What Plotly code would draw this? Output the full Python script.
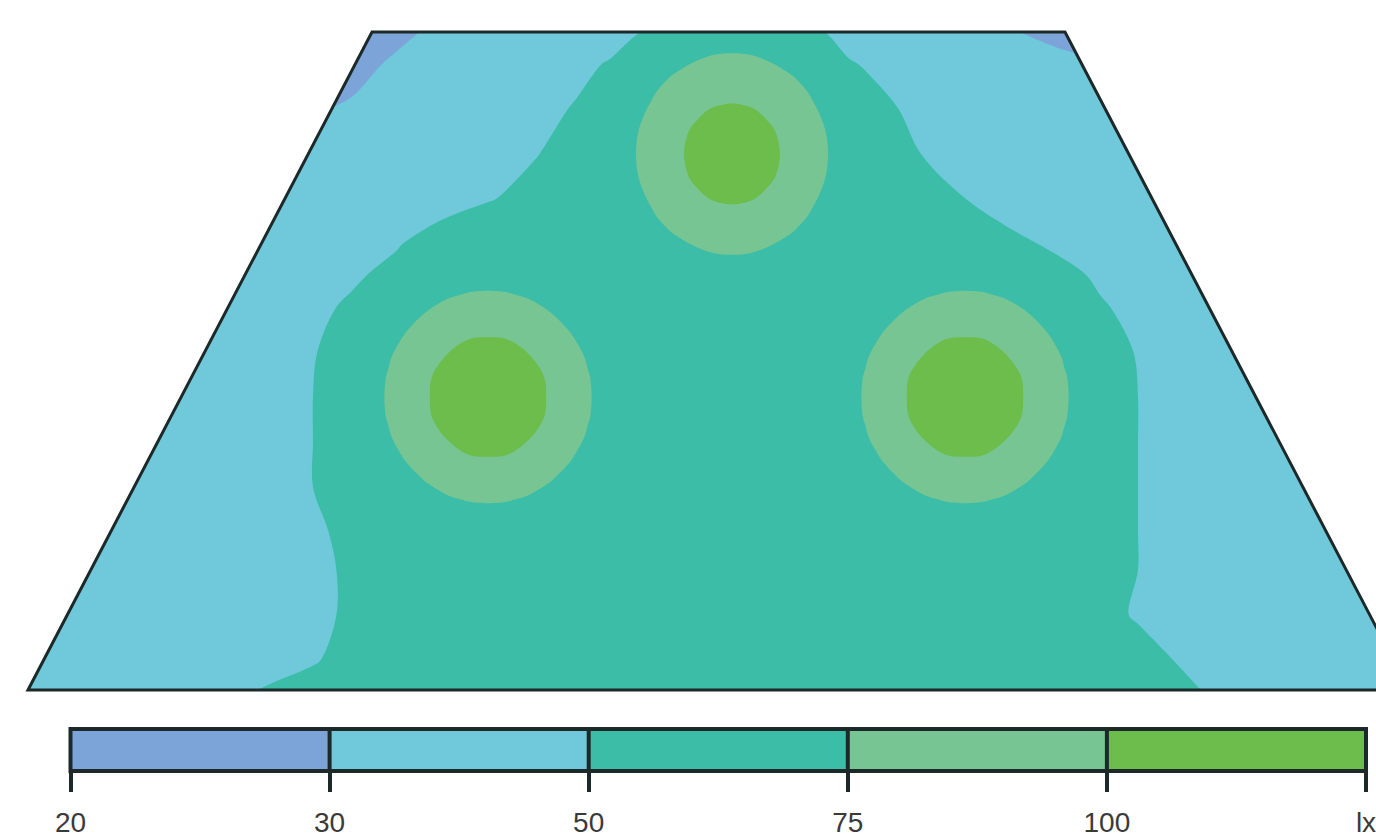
import plotly.graph_objects as go

# room floor plan (m): bottom-left, top-left, top-right, bottom-right
ROOM_X = [0.0, 3.44, 10.37, 13.81]
ROOM_Y = [0.0, 6.58, 6.58, 0.0]

GRID_X = [-0.3, 0.8, 1.8, 2.4, 2.85, 3.24, 3.69, 4.14, 4.59, 5.04, 5.49, 5.82, 6.14, 6.59,
          7.04, 7.49, 7.94, 8.21, 8.48, 8.93, 9.38, 9.83, 10.28, 10.73, 11.1, 11.45, 12.0, 13.0, 14.1]
GRID_Y = [-0.2, 0.3, 0.75, 1.2, 1.58, 2.03, 2.48, 2.93, 3.38, 3.83, 4.15, 4.46, 4.91, 5.36,
          5.81, 6.26, 6.71]

LUX = [
    [38, 38, 49, 56, 58, 58, 58, 58, 58, 58, 58, 58, 58, 58, 58, 58, 58, 58, 58, 58, 58, 58, 58, 58, 58, 55, 49, 38, 38],
    [38, 38, 38, 44, 49, 54, 58, 58, 58, 58, 58, 58, 58, 58, 58, 58, 58, 58, 58, 58, 58, 58, 58, 58, 54, 50, 43, 38, 38],
    [38, 38, 38, 42, 47, 52, 57, 58, 58, 58, 58, 58, 58, 58, 58, 58, 58, 58, 58, 58, 58, 58, 58, 53, 49, 45, 38, 38, 38],
    [38, 38, 38, 42, 47, 52, 58, 58, 58, 58, 58, 58, 58, 58, 58, 58, 58, 58, 58, 58, 58, 58, 58, 54, 50, 46, 39, 38, 38],
    [38, 38, 38, 43, 48, 53, 60, 62, 64, 62, 60, 59, 58, 58, 58, 58, 58, 59, 60, 62, 64, 62, 60, 54, 50, 46, 39, 38, 38],
    [38, 38, 38, 44, 50, 56, 67, 77, 80, 77, 67, 62, 59, 58, 58, 58, 60, 63, 67, 77, 80, 77, 67, 56, 50, 46, 39, 38, 38],
    [38, 38, 38, 45, 50, 59, 77, 98, 108, 98, 77, 66, 60, 58, 58, 58, 62, 68, 77, 98, 108, 98, 77, 59, 50, 46, 39, 38, 38],
    [38, 38, 38, 45, 50, 61, 80, 108, 122, 108, 80, 69, 61, 58, 58, 58, 63, 70, 80, 108, 122, 108, 80, 60, 50, 46, 39, 38, 38],
    [38, 38, 38, 44, 49, 58, 77, 98, 108, 98, 77, 66, 60, 58, 58, 58, 62, 68, 77, 98, 108, 98, 77, 57, 49, 45, 38, 38, 38],
    [38, 38, 38, 42, 47, 52, 66, 77, 80, 77, 67, 62, 59, 58, 58, 58, 60, 63, 67, 77, 80, 77, 66, 51, 47, 43, 38, 38, 38],
    [38, 38, 38, 38, 44, 48, 54, 66, 69, 66, 62, 60, 58, 62, 64, 62, 58, 60, 62, 66, 69, 66, 54, 48, 44, 40, 38, 38, 38],
    [38, 38, 38, 38, 39, 44, 49, 57, 62, 61, 59, 58, 64, 74, 78, 74, 64, 58, 59, 61, 62, 53, 48, 43, 38, 38, 38, 38, 38],
    [38, 38, 38, 38, 38, 38, 38, 44, 49, 54, 58, 62, 74, 97, 102, 97, 74, 64, 58, 55, 50, 44, 39, 38, 38, 38, 38, 38, 38],
    [38, 38, 38, 38, 38, 38, 38, 39, 44, 49, 55, 64, 78, 102, 118, 102, 78, 64, 56, 50, 45, 39, 38, 38, 38, 38, 38, 38, 38],
    [25, 25, 25, 25, 28, 33, 38, 38, 40, 46, 51, 59, 74, 97, 102, 97, 74, 62, 53, 47, 42, 38, 38, 38, 38, 38, 38, 38, 38],
    [15, 15, 15, 18, 20, 22, 34, 38, 38, 41, 47, 51, 61, 74, 78, 74, 60, 51, 48, 42, 38, 38, 36, 31, 20, 15, 15, 15, 15],
    [15, 15, 15, 15, 15, 15, 20, 32, 38, 38, 38, 42, 46, 51, 58, 52, 47, 43, 40, 38, 34, 28, 20, 15, 15, 15, 15, 15, 15],
]
assert all(len(r) == len(GRID_X) for r in LUX) and len(LUX) == len(GRID_Y)

# luminaires (m) and finer readings around each one
LAMP_X = [4.60, 7.04, 9.37]
LAMP_Y = [2.93, 5.36, 2.93]
PATCH_DX = [-1.2, -1.0, -0.8, -0.6, -0.4, -0.2, 0.0, 0.2, 0.4, 0.6, 0.8, 1.0, 1.2]
PATCH_DY_SIDE = [-1.23, -1.025, -0.82, -0.615, -0.41, -0.205, 0.0, 0.205, 0.41, 0.615, 0.82, 1.025, 1.23]
PATCH_DY_TOP = [-1.26, -1.05, -0.84, -0.63, -0.42, -0.21, 0.0, 0.21, 0.42, 0.63, 0.84, 1.05, 1.26]

SIDE_LAMP_LUX = [
    [39, 47, 53, 59, 63, 66, 66, 66, 63, 59, 53, 47, 39],
    [47, 55, 62, 68, 73, 76, 77, 76, 73, 68, 62, 55, 47],
    [53, 62, 70, 77, 83, 87, 88, 87, 83, 77, 70, 62, 53],
    [59, 68, 77, 86, 93, 98, 99, 98, 93, 86, 77, 68, 59],
    [63, 73, 83, 93, 101, 108, 110, 108, 101, 93, 83, 73, 63],
    [66, 76, 87, 98, 108, 117, 121, 117, 108, 98, 87, 76, 66],
    [66, 77, 88, 99, 110, 121, 132, 121, 110, 99, 88, 77, 66],
    [66, 76, 87, 98, 108, 117, 121, 117, 108, 98, 87, 76, 66],
    [63, 73, 83, 93, 101, 108, 110, 108, 101, 93, 83, 73, 63],
    [59, 68, 77, 86, 93, 98, 99, 98, 93, 86, 77, 68, 59],
    [53, 62, 70, 77, 83, 87, 88, 87, 83, 77, 70, 62, 53],
    [47, 55, 62, 68, 73, 76, 77, 76, 73, 68, 62, 55, 47],
    [39, 47, 53, 59, 63, 66, 66, 66, 63, 59, 53, 47, 39],
]
TOP_LAMP_LUX = [
    [37, 44, 50, 55, 59, 62, 62, 62, 59, 55, 50, 44, 37],
    [44, 51, 58, 64, 69, 72, 73, 72, 69, 64, 58, 51, 44],
    [50, 58, 66, 73, 78, 82, 83, 82, 78, 73, 66, 58, 50],
    [55, 64, 73, 81, 87, 92, 94, 92, 87, 81, 73, 64, 55],
    [59, 69, 78, 87, 96, 102, 104, 102, 96, 87, 78, 69, 59],
    [62, 72, 82, 92, 102, 110, 115, 110, 102, 92, 82, 72, 62],
    [62, 73, 83, 94, 104, 115, 125, 115, 104, 94, 83, 73, 62],
    [62, 72, 82, 92, 102, 110, 115, 110, 102, 92, 82, 72, 62],
    [59, 69, 78, 87, 96, 102, 104, 102, 96, 87, 78, 69, 59],
    [55, 64, 73, 81, 87, 92, 94, 92, 87, 81, 73, 64, 55],
    [50, 58, 66, 73, 78, 82, 83, 82, 78, 73, 66, 58, 50],
    [44, 51, 58, 64, 69, 72, 73, 72, 69, 64, 58, 51, 44],
    [37, 44, 50, 55, 59, 62, 62, 62, 59, 55, 50, 44, 37],
]

LEVELS = [20, 30, 50, 75, 100]
UNIT = "lx"
BAND_COLORS = ["#7DA4D9", "#6FC9DA", "#3CBDA8", "#77C593", "#6CBD4C"]
CLEAR = "rgba(0,0,0,0)"
DARK = "#1d2829"
FONT = "Liberation Sans, Arial, sans-serif"

W, H = 1376, 839


def band_scale(levels, colors, step):
    # plotly colours the band above level L with the scale value at L + step/2
    lo, hi = levels[0] - step / 2, levels[-1] + step / 2
    edges = [lo] + levels + [hi]
    out = []
    for i, col in enumerate(colors):
        out.append([(edges[i] - lo) / (hi - lo), col])
        out.append([(edges[i + 1] - lo) / (hi - lo), col])
    return out


fig = go.Figure()

# whole plan: 20-30, 30-50 and >50 classes
# (lines kept "on" at zero width so that plotly keeps the path smoothing)
fig.add_trace(go.Contour(
    x=GRID_X, y=GRID_Y, z=LUX,
    colorscale=band_scale([30, 50], BAND_COLORS[:3], 5), showscale=False, autocontour=False,
    contours=dict(start=30, end=50, size=5, coloring="fill", showlines=True),
    line=dict(width=0, color=CLEAR, smoothing=1.0), hoverinfo="skip",
))

# around the luminaires: 75-100 and >100 classes
for k in range(len(LAMP_X)):
    top = k == 1
    fig.add_trace(go.Contour(
        x=[LAMP_X[k] + d for d in PATCH_DX],
        y=[LAMP_Y[k] + d for d in (PATCH_DY_TOP if top else PATCH_DY_SIDE)],
        z=TOP_LAMP_LUX if top else SIDE_LAMP_LUX,
        colorscale=band_scale([75, 100], [CLEAR] + BAND_COLORS[3:], 25), showscale=False,
        autocontour=False,
        contours=dict(start=75, end=100, size=25, coloring="fill", showlines=True),
        line=dict(width=0, color=CLEAR, smoothing=1.0), hoverinfo="skip",
    ))

# legend bar: one cell per lux class
n = len(LEVELS)
bar_scale = [[i / (n - 1), c] for i, c in enumerate(BAND_COLORS)]
fig.add_trace(go.Heatmap(
    x=[i + 0.5 for i in range(n)], y=[0.5], z=[list(range(n))],
    colorscale=bar_scale, zmin=0, zmax=n - 1, showscale=False,
    xaxis="x2", yaxis="y2", hoverinfo="skip",
))

room = " ".join(f"{'M' if i == 0 else 'L'}{x},{y}" for i, (x, y) in enumerate(zip(ROOM_X, ROOM_Y))) + " Z"
mask = "M-2,-2 L16,-2 L16,9 L-2,9 Z " + room

shapes = [
    dict(type="path", path=mask, xref="x", yref="y", fillcolor="white", fillrule="evenodd",
         line=dict(width=0), layer="above"),
    dict(type="path", path=room, xref="x", yref="y", line=dict(color=DARK, width=3), layer="above"),
]
for i in range(1, n):
    shapes.append(dict(type="line", xref="x2", yref="y2 domain", x0=i, x1=i, y0=0, y1=1,
                       line=dict(color=DARK, width=4), layer="above"))
shapes.append(dict(type="rect", xref="x2 domain", yref="y2 domain", x0=0, x1=1, y0=0, y1=1,
                   line=dict(color=DARK, width=4), layer="above"))

fig.update_layout(
    width=W, height=H, autosize=False,
    margin=dict(l=0, r=0, t=0, b=0),
    paper_bgcolor="white", plot_bgcolor="white",
    showlegend=False,
    shapes=shapes,
    xaxis=dict(range=[-0.28, 13.48], domain=[0, 1], visible=False, fixedrange=True, automargin=False),
    yaxis=dict(range=[-0.15, 6.90], domain=[1 - 705 / H, 1], visible=False, fixedrange=True,
               automargin=False),
    xaxis2=dict(domain=[70.5 / W, 1366 / W], range=[0, n], anchor="y2", automargin=False,
                tickvals=list(range(n + 1)), ticktext=[str(v) for v in LEVELS] + [UNIT],
                ticks="outside", ticklen=20, tickwidth=4, tickcolor=DARK,
                showgrid=False, zeroline=False, showline=False, fixedrange=True,
                ticklabeloverflow="allow",
                tickfont=dict(family=FONT, size=28, color="#3a3a3a"), ticklabelstandoff=6),
    yaxis2=dict(domain=[1 - 771 / H, 1 - 729 / H], range=[0, 1], anchor="x2", visible=False,
                fixedrange=True, automargin=False),
)

fig.write_html("out.html", config={"displayModeBar": False},
               post_script="document.body.style.margin='0';document.body.style.overflow='hidden';")
